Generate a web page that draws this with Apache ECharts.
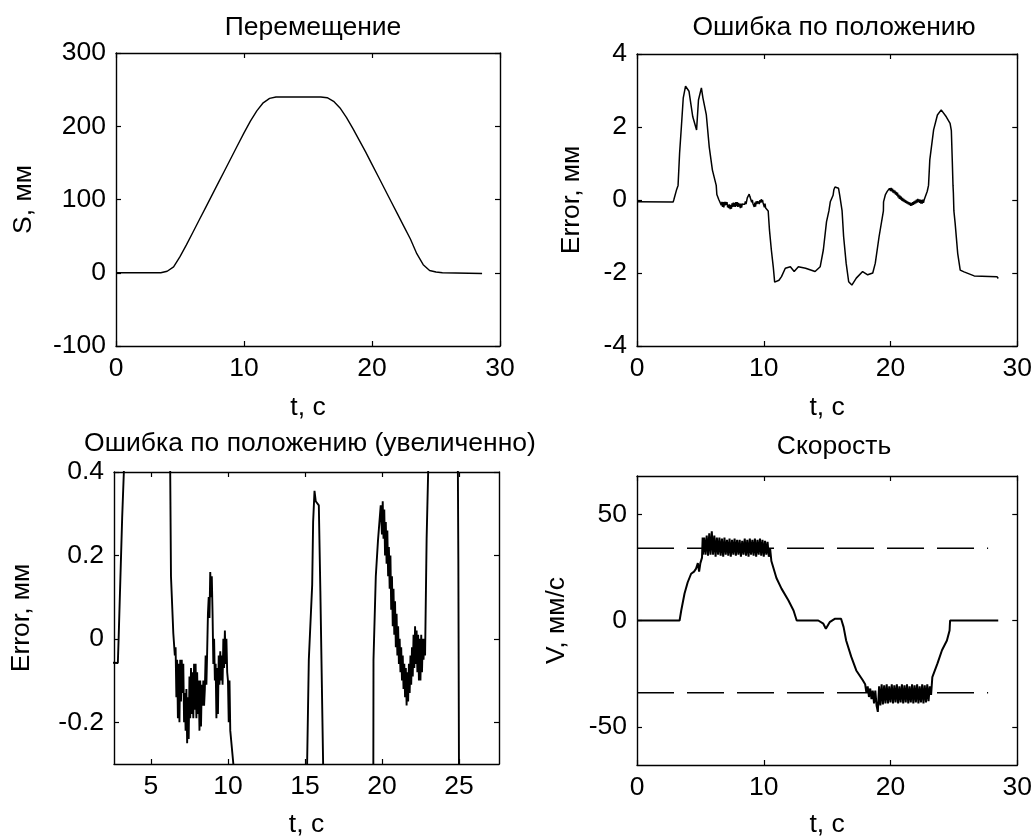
<!DOCTYPE html>
<html>
<head>
<meta charset="utf-8">
<title>Перемещение, ошибка, скорость</title>
<script src="https://cdn.jsdelivr.net/npm/echarts@6/dist/echarts.min.js"></script>
<style>
    html, body { margin: 0; padding: 0; background: #fff; }
    #main { width: 1035px; height: 839px; }
</style>
</head>
<body>
<div id="main"></div>
<script>
// ---- data ----
var sT = [0, 3.5, 4, 4.5, 5, 5.5, 6, 6.5, 7, 7.5, 8, 8.5, 9, 9.5, 10, 10.5, 11, 11.5, 12, 12.5,
    16, 16.5, 17, 17.5, 18, 18.5, 19, 19.5, 20, 20.5, 21, 21.5, 22, 22.5, 23, 23.5, 24, 24.5, 25, 25.5, 28.6];
var sV = [0, 0, 2, 8, 22, 38, 55, 72, 89, 106, 123, 140, 157, 174, 191, 207, 221, 232, 238, 240,
    240, 239, 234, 225, 212, 197, 181, 165, 148, 131, 114, 97, 80, 63, 46, 26, 11, 3, 1, 0, -1];

var errT = [0, 2.85, 2.9, 3.0, 3.13, 3.24, 3.36, 3.5, 3.65, 3.83, 4.1, 4.4, 4.7, 4.85, 5.08, 5.2, 5.47, 5.7, 5.95, 6.25, 6.3, 6.45,
    6.5, 6.55, 6.6, 6.65, 6.7, 6.75, 6.8, 6.85, 6.9, 6.95,
    7.0, 7.05, 7.1, 7.15, 7.2, 7.25, 7.3, 7.35, 7.4, 7.45,
    7.5, 7.55, 7.6, 7.65, 7.7, 7.75, 7.8, 7.85, 7.9, 7.95,
    8.0, 8.05, 8.1, 8.15, 8.2, 8.25, 8.3, 8.35, 8.4, 8.45,
    8.5, 8.55, 8.6, 8.65, 8.7, 8.75, 8.8, 8.85, 8.9, 8.95,
    9.0, 9.05, 9.1, 9.15, 9.2, 9.25, 9.3, 9.35, 9.4, 9.45,
    9.5, 9.55, 9.6, 9.65, 9.7, 9.75, 9.8, 9.85, 9.9, 9.95,
    10.0, 10.05, 10.1, 10.15,
    10.35, 10.45, 10.6, 10.75, 10.86, 11.2, 11.4, 11.7, 12.1, 12.4, 12.73, 13.3, 14.05, 14.45, 14.7, 14.95, 15.14, 15.25,
    15.47, 15.53, 15.62, 15.7, 15.9, 16.0, 16.18, 16.3, 16.5, 16.7, 16.95, 17.3, 17.8, 18.2, 18.6, 18.8, 19.1, 19.44, 19.45,
    19.6, 19.74, 19.92,
    20.0, 20.05, 20.1, 20.15, 20.2, 20.25, 20.3, 20.35, 20.4, 20.45,
    20.5, 20.55, 20.6, 20.65, 20.7, 20.75, 20.8, 20.85, 20.9, 20.95,
    21.0, 21.05, 21.1, 21.15, 21.2, 21.25, 21.3, 21.35, 21.4, 21.45,
    21.5, 21.55, 21.6, 21.65, 21.7, 21.75, 21.8, 21.85, 21.9, 21.95,
    22.0, 22.05, 22.1, 22.15, 22.2, 22.25, 22.3, 22.35, 22.4, 22.45,
    22.5, 22.55, 22.6, 22.65, 22.7, 22.75, 22.8,
    22.9, 23.0, 23.1, 23.4, 23.7, 24.0, 24.4, 24.7, 24.8, 24.88, 24.93, 24.96, 25.0, 25.1, 25.3, 25.5, 25.8, 26.6, 28.4, 28.5];
var errV = [-0.05, -0.058, 0, 0, 0.29, 0.4, 1.28, 2.0, 2.8, 3.12, 2.98, 2.28, 1.92, 2.74, 3.07, 2.8, 2.33, 1.45, 0.82, 0.4, 0.15, 0.014,
    0.01, -0.04, -0.02, -0.14, -0.05, -0.19, -0.06, -0.2, -0.05, -0.15,
    -0.05, -0.13, -0.06, -0.2, -0.13, -0.22, -0.12, -0.25, -0.14, -0.24,
    -0.09, -0.19, -0.07, -0.18, -0.08, -0.19, -0.06, -0.17, -0.06, -0.19,
    -0.08, -0.18, -0.1, -0.22, -0.1, -0.21, -0.11, -0.16, -0.1, -0.16,
    -0.12, -0.04, -0.11, -0.03, 0.06, 0.1, 0.05, 0.16, 0.1, 0.15,
    0.06, -0.06, 0.0, -0.1, -0.06, -0.19, -0.07, -0.18, -0.04, -0.11,
    -0.03, -0.1, -0.04, -0.11, 0.0, -0.07, 0.02, -0.06, 0.0, -0.08,
    -0.1, -0.2, -0.1, -0.22,
    -0.3, -0.82, -1.37, -1.83, -2.25, -2.2, -2.1, -1.87, -1.83, -1.96, -1.83, -1.87, -1.96, -1.83, -1.37, -0.6, -0.3, -0.05,
    0.13, 0.28, 0.355, 0.33, 0.32, 0.115, -0.3, -1.0, -1.73, -2.24, -2.33, -2.14, -1.96, -2.05, -2.0, -1.73, -1.0, -0.3, -0.05,
    0.15, 0.235, 0.32,
    0.25, 0.33, 0.24, 0.31, 0.2, 0.28, 0.18, 0.26, 0.15, 0.22,
    0.12, 0.2, 0.07, 0.15, 0.03, 0.12, 0.01, 0.09, -0.02, 0.06,
    -0.04, 0.03, -0.06, 0.0, -0.08, -0.02, -0.1, -0.04, -0.12, -0.06,
    -0.14, -0.07, -0.16, -0.08, -0.15, -0.06, -0.13, -0.04, -0.11, -0.02,
    -0.09, 0.01, -0.07, 0.03, -0.06, 0.02, -0.08, 0.01, -0.1, 0.0,
    -0.1, 0.01, -0.08, 0.0, -0.05, 0.0, -0.04,
    0.24, 0.4, 1.1, 1.92, 2.33, 2.47, 2.28, 2.1, 1.9, 1.0, 0.4, 0.19, -0.3, -0.64, -1.46, -1.92, -1.97, -2.08, -2.1, -2.15];

var velT = [0, 3.36, 3.49, 3.75, 4.0, 4.27, 4.5, 4.66, 4.8, 4.9, 5.0, 5.13, 5.18,
    5.2, 5.3, 5.4, 5.5, 5.6, 5.7, 5.8, 5.9, 6.0, 6.1, 6.2, 6.3, 6.4, 6.5, 6.6, 6.7, 6.8, 6.9, 7.0, 7.1, 7.2, 7.3, 7.4, 7.5, 7.6, 7.7, 7.8, 7.9,
    8.0, 8.1, 8.2, 8.3, 8.4, 8.5, 8.6, 8.7, 8.8, 8.9, 9.0, 9.1, 9.2, 9.3, 9.4, 9.5, 9.6, 9.7, 9.8, 9.9, 10.0, 10.1, 10.2, 10.3, 10.4, 10.5, 10.6,
    11.0, 11.4, 11.95, 12.35, 12.6, 14.3, 14.7, 14.9, 15.2, 15.6, 16.1, 16.3, 16.5, 16.9, 17.3, 17.8,
    18.0, 18.1, 18.2, 18.3, 18.4, 18.5, 18.6, 18.7, 18.8, 18.9, 19.0,
    19.1, 19.2, 19.3, 19.4, 19.5, 19.6, 19.7, 19.8, 19.9, 20.0, 20.1, 20.2, 20.3, 20.4, 20.5, 20.6, 20.7, 20.8, 20.9, 21.0,
    21.1, 21.2, 21.3, 21.4, 21.5, 21.6, 21.7, 21.8, 21.9, 22.0, 22.1, 22.2, 22.3, 22.4, 22.5, 22.6, 22.7, 22.8, 22.9, 23.0, 23.1, 23.2,
    23.3, 23.7, 24.06, 24.45, 24.66, 24.7, 28.5];
var velV = [0, 0, 4.7, 12.7, 18, 22, 23, 24.4, 27, 23, 27, 29.6, 39,
    31, 39, 31, 40, 30.5, 41, 31, 42, 31, 40, 30, 39, 31, 39, 30.5, 38.5, 30, 39, 31, 38, 30.5, 38.5, 30, 38, 31, 38.5, 30.5, 38,
    31, 38, 30, 37.5, 31, 38.5, 30.5, 38, 30, 38.5, 31, 38, 30.5, 38.5, 30, 38, 31, 38.5, 30.5, 38, 30, 37.5, 31, 37, 30, 34, 28,
    20, 15, 9.4, 4.7, 0, 0, -1.5, -3.9, -0.8, 0.8, 0.8, -3.1, -9.4, -17, -23.5, -28,
    -30, -34, -31, -36, -32, -37, -33, -39, -33, -40, -43,
    -31, -40, -30, -39.5, -30.5, -39, -30, -39, -31, -38.5, -30, -39, -30.5, -38.5, -30, -39, -31, -38.5, -30, -39,
    -30.5, -38.5, -30, -39, -31, -38.5, -30, -39, -30.5, -38.5, -30, -39, -31, -38.5, -30, -39, -30.5, -38.5, -30, -38, -31, -35,
    -26.6, -20.3, -14, -9.4, -4.7, 0, 0];

// заданная скорость (штриховые линии)
var limitT = [0, 27.7];
var limitUp = [34, 34];
var limitDown = [-34, -34];

// tick values
var tTicks = [0, 10, 20, 30];
var tZoomTicks = [5, 10, 15, 20, 25];
var sTicks = [-100, 0, 100, 200, 300];
var errTicks = [-4, -2, 0, 2, 4];
var errZoomTicks = [-0.2, 0, 0.2, 0.4];
var velTicks = [-50, 0, 50];

// ---- layout ----
var font = 'Liberation Sans, Arial, sans-serif';
var fs = 26.5;

function pairs(xs, ys) {
    var out = [];
    for (var i = 0; i < xs.length; i++) {
        out.push([xs[i], ys[i]]);
    }
    return out;
}

var panels = [{
    title: 'Перемещение', cx: 308, ty: 9,
    grid: { left: 116, top: 53, width: 384, height: 293 },
    xMin: 0, xMax: 30, xTicks: tTicks, xGap: 48,
    yMin: -100, yMax: 300, yTicks: sTicks, yName: 'S, мм', yGap: 79
}, {
    title: 'Ошибка по положению', cx: 829, ty: 9,
    grid: { left: 637, top: 54, width: 384, height: 292 },
    xMin: 0, xMax: 30, xTicks: tTicks, xGap: 48,
    yMin: -4, yMax: 4, yTicks: errTicks, yName: 'Error, мм', yGap: 52
}, {
    title: 'Ошибка по положению (увеличенно)', cx: 305, ty: 425,
    grid: { left: 114, top: 472, width: 385, height: 292 },
    xMin: 2.6, xMax: 27.6, xTicks: tZoomTicks, xGap: 47,
    yMin: -0.3, yMax: 0.4, yTicks: errZoomTicks, yName: 'Error, мм', yGap: 79
}, {
    title: 'Скорость', cx: 829, ty: 428,
    grid: { left: 637, top: 476, width: 384, height: 290 },
    xMin: 0, xMax: 30, xTicks: tTicks, xGap: 46,
    yMin: -68, yMax: 68, yTicks: velTicks, yName: 'V, мм/с', yGap: 67
}];

function makeAxis(gridIndex, position, min, max, ticks, labels, name, gap) {
    return {
        type: 'value',
        gridIndex: gridIndex,
        position: position,
        min: min,
        max: max,
        name: name || '',
        nameLocation: 'middle',
        nameGap: gap,
        nameTextStyle: { color: '#000', fontSize: fs, fontFamily: font },
        axisLine: { show: true, onZero: false, lineStyle: { color: '#000', width: 1.4 } },
        axisTick: { show: true, inside: true, length: 5, customValues: ticks, lineStyle: { color: '#000', width: 1.2 } },
        axisLabel: {
            show: labels, customValues: ticks, color: '#000', fontSize: fs, fontFamily: font,
            margin: (position === 'left' ? 10 : 9)
        },
        splitLine: { show: false }
    };
}

var grids = [], xAxes = [], yAxes = [], titles = [];
panels.forEach(function (p, i) {
    grids.push(p.grid);
    xAxes.push(makeAxis(i, 'bottom', p.xMin, p.xMax, p.xTicks, true, 't, c', p.xGap));
    xAxes.push(makeAxis(i, 'top', p.xMin, p.xMax, p.xTicks, false));
    yAxes.push(makeAxis(i, 'left', p.yMin, p.yMax, p.yTicks, true, p.yName, p.yGap));
    yAxes.push(makeAxis(i, 'right', p.yMin, p.yMax, p.yTicks, false));
    titles.push({
        text: p.title, left: p.cx, top: p.ty, textAlign: 'center',
        textStyle: { color: '#000', fontSize: fs, fontWeight: 'normal', fontFamily: font }
    });
});

function lineSeries(panel, data, width, dash) {
    return {
        type: 'line',
        xAxisIndex: panel * 2,
        yAxisIndex: panel * 2,
        data: data,
        symbol: 'none',
        clip: true,
        silent: true,
        lineStyle: { color: '#000', width: width, type: dash || 'solid' }
    };
}

var errData = pairs(errT, errV);
var series = [
    lineSeries(0, pairs(sT, sV), 1.4),
    lineSeries(1, errData, 1.5),
    lineSeries(2, errData, 1.9),
    lineSeries(3, pairs(velT, velV), 2),
    lineSeries(3, pairs(limitT, limitUp), 1.6, [37, 13]),
    lineSeries(3, pairs(limitT, limitDown), 1.6, [37, 13])
];

var myChart = echarts.init(document.getElementById('main'));
myChart.setOption({
    backgroundColor: '#fff',
    animation: false,
    title: titles,
    grid: grids,
    xAxis: xAxes,
    yAxis: yAxes,
    series: series
});
</script>
</body>
</html>
